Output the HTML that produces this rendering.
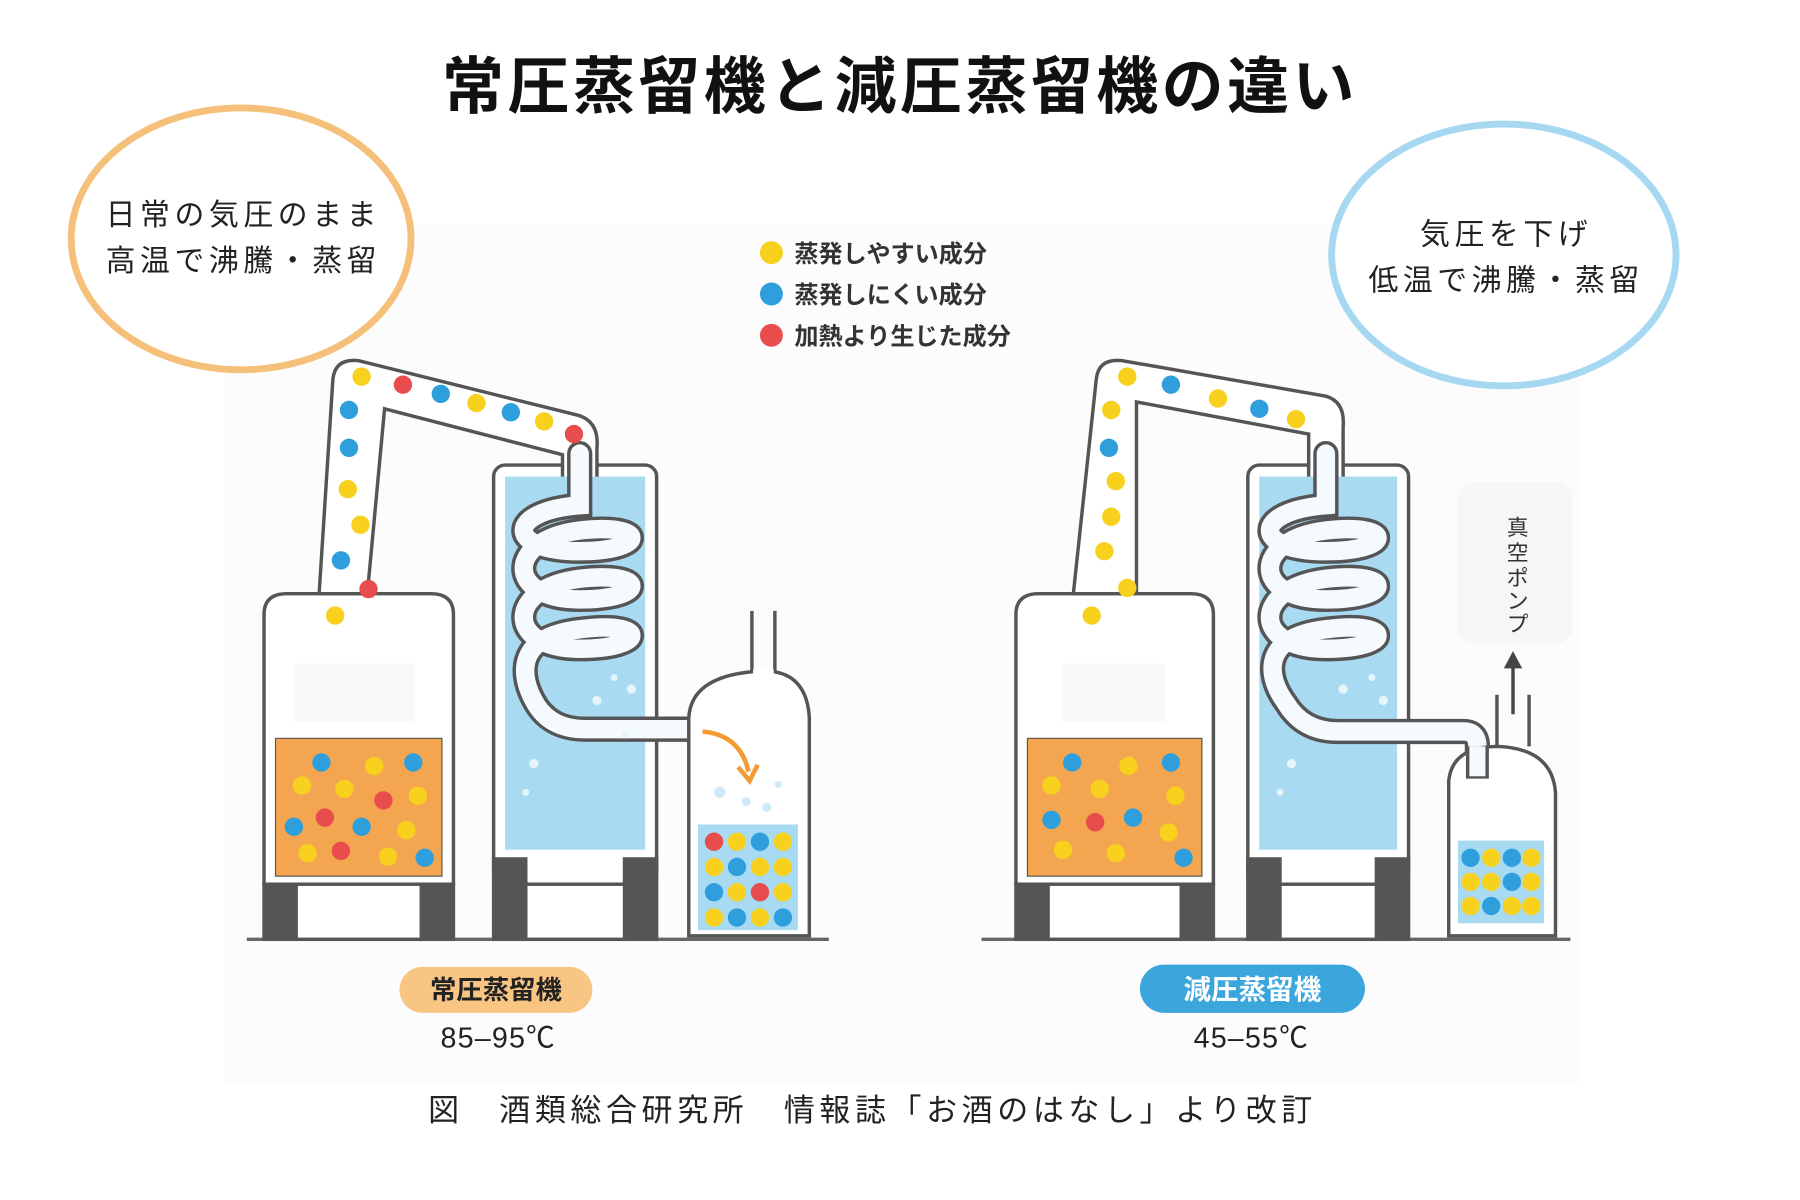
<!DOCTYPE html>
<html><head><meta charset="utf-8">
<style>
html,body{margin:0;padding:0;background:#fff;}
svg{display:block;}
text{font-family:"Liberation Sans","Noto Sans CJK JP",sans-serif;}
</style></head>
<body>
<svg width="1800" height="1200" viewBox="0 0 1568 1045" preserveAspectRatio="none" xmlns="http://www.w3.org/2000/svg">
<defs>
<g id="y"><circle r="8" fill="#f7d11e"/></g>
<g id="b"><circle r="8" fill="#2e9fdc"/></g>
<g id="r"><circle r="8" fill="#e84c4c"/></g>
</defs>
<rect width="1568" height="1045" fill="#fff"/>
<rect x="195" y="195" width="1180" height="750" fill="#fcfcfc"/>

<text x="784" y="94" font-size="54" text-anchor="middle" fill="#111" font-weight="bold" letter-spacing="3">常圧蒸留機と減圧蒸留機の違い</text>

<ellipse cx="210" cy="208" rx="148" ry="114" fill="#fff" stroke="#f5c07a" stroke-width="6"/>
<text x="212" y="196" font-size="26" text-anchor="middle" fill="#222" letter-spacing="4">日常の気圧のまま</text>
<text x="212" y="236" font-size="26" text-anchor="middle" fill="#222" letter-spacing="4">高温で沸騰・蒸留</text>
<ellipse cx="1310" cy="222" rx="150" ry="114" fill="#fff" stroke="#a6d8f2" stroke-width="6"/>
<text x="1312" y="213" font-size="26" text-anchor="middle" fill="#222" letter-spacing="4">気圧を下げ</text>
<text x="1312" y="253" font-size="26" text-anchor="middle" fill="#222" letter-spacing="4">低温で沸騰・蒸留</text>

<circle cx="672" cy="220" r="10" fill="#f7d11e"/>
<circle cx="672" cy="256" r="10" fill="#2e9fdc"/>
<circle cx="672" cy="292" r="10" fill="#e84c4c"/>
<text x="692" y="228" font-size="21" font-weight="bold" fill="#333">蒸発しやすい成分</text>
<text x="692" y="264" font-size="21" font-weight="bold" fill="#333">蒸発しにくい成分</text>
<text x="692" y="300" font-size="21" font-weight="bold" fill="#333">加熱より生じた成分</text>

<line x1="215" y1="818" x2="722" y2="818" stroke="#666" stroke-width="3"/>
<line x1="855" y1="818" x2="1368" y2="818" stroke="#666" stroke-width="3"/>

<!-- LEFT STILL -->
<g stroke="#555" stroke-width="3" fill="#fff">
<rect x="430" y="405" width="142" height="365" rx="10"/>
<rect x="430" y="748" width="28" height="70" fill="#555"/>
<rect x="544" y="748" width="28" height="70" fill="#555"/>
<rect x="458" y="770" width="86" height="48"/>
<path d="M230,770 L230,535 Q230,517 250,517 L375,517 Q395,517 395,535 L395,770 Z"/>
<rect x="230" y="770" width="28" height="48" fill="#555"/>
<rect x="367" y="770" width="28" height="48" fill="#555"/>
<rect x="258" y="770" width="109" height="48"/>
<path d="M278,517 L290,330 Q292,312 312,314 L505,362 Q522,368 520,390 L520,420 L490,420 L490,396 L335,356 L320,517 Z"/>
</g>
<rect x="440" y="415" width="122" height="325" fill="#a8dbf2"/>
<rect x="240" y="643" width="145" height="120" fill="#f4a550" stroke="#555" stroke-width="1"/>
<rect x="256" y="578" width="105" height="50" fill="#f8f8f8"/>
<g fill="none" stroke-linecap="round">
<path d="M505,395 L505,440 C440,445 440,480 505,480 C565,480 565,455 505,462 C440,470 440,522 505,522 C565,522 565,497 505,504 C440,512 440,565 505,565 C565,565 565,540 505,548 C445,555 455,592 465,610 Q478,635 510,635 L607,635" stroke="#555" stroke-width="22"/>
<path d="M505,395 L505,440 C440,445 440,480 505,480 C565,480 565,455 505,462 C440,470 440,522 505,522 C565,522 565,497 505,504 C440,512 440,565 505,565 C565,565 565,540 505,548 C445,555 455,592 465,610 Q478,635 510,635 L607,635" stroke="#f4fafd" stroke-width="16"/>
</g>
<g fill="#e6f5fc"><circle cx="520" cy="610" r="4"/><circle cx="545" cy="640" r="3"/><circle cx="465" cy="665" r="4"/><circle cx="458" cy="690" r="3"/><circle cx="535" cy="590" r="3"/><circle cx="550" cy="600" r="4"/></g>
<!-- receiver -->
<path d="M600,815 L600,625 Q602,590 655,585 L675,585 Q703,590 705,625 L705,815 Z" fill="#fff" stroke="#555" stroke-width="3"/>
<line x1="655" y1="586" x2="655" y2="532" stroke="#555" stroke-width="3"/>
<line x1="675" y1="586" x2="675" y2="532" stroke="#555" stroke-width="3"/>
<line x1="656" y1="585" x2="674" y2="585" stroke="#fff" stroke-width="4"/>
<rect x="608" y="718" width="87" height="92" fill="#a8dbf2"/>
<path d="M612,637 Q645,640 652,672" fill="none" stroke="#f39a33" stroke-width="4"/>
<path d="M643,668 L653,680 L660,666" fill="none" stroke="#f39a33" stroke-width="4"/>
<g fill="#cfe9f7"><circle cx="627" cy="690" r="5"/><circle cx="650" cy="698" r="4"/><circle cx="668" cy="703" r="4"/><circle cx="678" cy="683" r="3"/></g>
<use href="#y" x="315" y="328"/><use href="#r" x="351" y="335"/><use href="#b" x="384" y="343"/><use href="#y" x="415" y="351"/><use href="#b" x="445" y="359"/><use href="#y" x="474" y="367"/><use href="#r" x="500" y="378"/>
<use href="#b" x="304" y="357"/><use href="#b" x="304" y="390"/><use href="#y" x="303" y="426"/><use href="#y" x="314" y="457"/><use href="#b" x="297" y="488"/><use href="#r" x="321" y="513"/><use href="#y" x="292" y="536"/>
<use href="#b" x="280" y="664"/><use href="#y" x="326" y="667"/><use href="#b" x="360" y="664"/><use href="#y" x="263" y="684"/><use href="#y" x="300" y="687"/><use href="#r" x="334" y="697"/><use href="#y" x="364" y="693"/><use href="#r" x="283" y="712"/><use href="#b" x="256" y="720"/><use href="#b" x="315" y="720"/><use href="#y" x="354" y="723"/><use href="#y" x="268" y="743"/><use href="#r" x="297" y="741"/><use href="#y" x="338" y="746"/><use href="#b" x="370" y="747"/>
<g>
<use href="#r" x="622" y="733"/><use href="#y" x="642" y="733"/><use href="#b" x="662" y="733"/><use href="#y" x="682" y="733"/>
<use href="#y" x="622" y="755"/><use href="#b" x="642" y="755"/><use href="#y" x="662" y="755"/><use href="#y" x="682" y="755"/>
<use href="#b" x="622" y="777"/><use href="#y" x="642" y="777"/><use href="#r" x="662" y="777"/><use href="#y" x="682" y="777"/>
<use href="#y" x="622" y="799"/><use href="#b" x="642" y="799"/><use href="#y" x="662" y="799"/><use href="#b" x="682" y="799"/>
</g>

<!-- RIGHT STILL -->
<g stroke="#555" stroke-width="3" fill="#fff">
<rect x="1087" y="405" width="140" height="365" rx="10"/>
<rect x="1087" y="748" width="28" height="70" fill="#555"/>
<rect x="1199" y="748" width="28" height="70" fill="#555"/>
<rect x="1115" y="770" width="84" height="48"/>
<path d="M885,770 L885,535 Q885,517 905,517 L1037,517 Q1057,517 1057,535 L1057,770 Z"/>
<rect x="885" y="770" width="28" height="48" fill="#555"/>
<rect x="1029" y="770" width="28" height="48" fill="#555"/>
<rect x="913" y="770" width="116" height="48"/>
<path d="M935,517 L955,330 Q957,312 977,314 L1155,345 Q1172,350 1170,372 L1170,420 L1140,420 L1140,378 L990,350 L990,517 Z"/>
</g>
<rect x="1097" y="415" width="120" height="325" fill="#a8dbf2"/>
<rect x="895" y="643" width="152" height="120" fill="#f4a550" stroke="#555" stroke-width="1"/>
<rect x="925" y="578" width="90" height="50" fill="#f8f8f8"/>
<g fill="none" stroke-linecap="round">
<path d="M1155,395 L1155,440 C1090,445 1090,480 1155,480 C1215,480 1215,455 1155,462 C1090,470 1090,522 1155,522 C1215,522 1215,497 1155,504 C1090,512 1090,565 1155,565 C1215,565 1215,540 1155,548 C1095,555 1105,592 1120,612 Q1135,637 1165,637 L1275,637 Q1287,637 1287,650 L1287,672" stroke="#555" stroke-width="22"/>
<path d="M1155,395 L1155,440 C1090,445 1090,480 1155,480 C1215,480 1215,455 1155,462 C1090,470 1090,522 1155,522 C1215,522 1215,497 1155,504 C1090,512 1090,565 1155,565 C1215,565 1215,540 1155,548 C1095,555 1105,592 1120,612 Q1135,637 1165,637 L1275,637 Q1287,637 1287,650 L1287,672" stroke="#f4fafd" stroke-width="16"/>
</g>
<g fill="#e6f5fc"><circle cx="1170" cy="600" r="4"/><circle cx="1195" cy="590" r="3"/><circle cx="1125" cy="665" r="4"/><circle cx="1115" cy="690" r="3"/><circle cx="1205" cy="610" r="4"/></g>
<path d="M1262,815 L1262,680 Q1265,650 1305,650 Q1352,652 1355,690 L1355,815 Z" fill="#fff" stroke="#555" stroke-width="3"/>
<path d="M1287,650 L1287,678" stroke="#555" stroke-width="20"/>
<path d="M1287,650 L1287,676" stroke="#f4fafd" stroke-width="14"/>
<rect x="1270" y="732" width="75" height="72" fill="#a8dbf2"/>
<rect x="1270" y="420" width="100" height="140" rx="14" fill="#f6f6f6"/>
<text font-size="19" fill="#333" text-anchor="middle"><tspan x="1322" y="466">真</tspan><tspan x="1322" y="488">空</tspan><tspan x="1322" y="510">ポ</tspan><tspan x="1322" y="530">ン</tspan><tspan x="1322" y="550">プ</tspan></text>
<line x1="1318" y1="622" x2="1318" y2="580" stroke="#444" stroke-width="3"/>
<path d="M1310,582 L1318,567 L1326,582 Z" fill="#444"/>
<line x1="1304" y1="605" x2="1304" y2="650" stroke="#555" stroke-width="3"/>
<line x1="1332" y1="605" x2="1332" y2="650" stroke="#555" stroke-width="3"/>
<use href="#y" x="982" y="328"/><use href="#b" x="1020" y="335"/><use href="#y" x="1061" y="347"/><use href="#b" x="1097" y="356"/><use href="#y" x="1129" y="365"/>
<use href="#y" x="968" y="357"/><use href="#b" x="966" y="390"/><use href="#y" x="972" y="419"/><use href="#y" x="968" y="450"/><use href="#y" x="962" y="480"/><use href="#y" x="982" y="512"/><use href="#y" x="951" y="536"/>
<use href="#b" x="934" y="664"/><use href="#y" x="983" y="667"/><use href="#b" x="1020" y="664"/><use href="#y" x="916" y="684"/><use href="#y" x="958" y="687"/><use href="#y" x="1024" y="693"/><use href="#b" x="916" y="714"/><use href="#r" x="954" y="716"/><use href="#b" x="987" y="712"/><use href="#y" x="1018" y="725"/><use href="#y" x="926" y="740"/><use href="#y" x="972" y="743"/><use href="#b" x="1031" y="747"/>
<g>
<use href="#b" x="1281" y="747"/><use href="#y" x="1299" y="747"/><use href="#b" x="1317" y="747"/><use href="#y" x="1334" y="747"/>
<use href="#y" x="1281" y="768"/><use href="#y" x="1299" y="768"/><use href="#b" x="1317" y="768"/><use href="#y" x="1334" y="768"/>
<use href="#y" x="1281" y="789"/><use href="#b" x="1299" y="789"/><use href="#y" x="1317" y="789"/><use href="#y" x="1334" y="789"/>
</g>

<rect x="348" y="842" width="168" height="40" rx="20" fill="#f8c583"/>
<text x="432" y="870" font-size="23" font-weight="bold" text-anchor="middle" fill="#222">常圧蒸留機</text>
<text x="434" y="912" font-size="25" text-anchor="middle" fill="#222" letter-spacing="1">85–95℃</text>
<rect x="993" y="840" width="196" height="42" rx="21" fill="#3aa6dc"/>
<text x="1091" y="870" font-size="24" font-weight="bold" text-anchor="middle" fill="#fff">減圧蒸留機</text>
<text x="1090" y="912" font-size="25" text-anchor="middle" fill="#222" letter-spacing="1">45–55℃</text>

<text x="760" y="976" font-size="27" text-anchor="middle" fill="#222" letter-spacing="4">図　酒類総合研究所　情報誌「お酒のはなし」より改訂</text>
</svg>
</body></html>
